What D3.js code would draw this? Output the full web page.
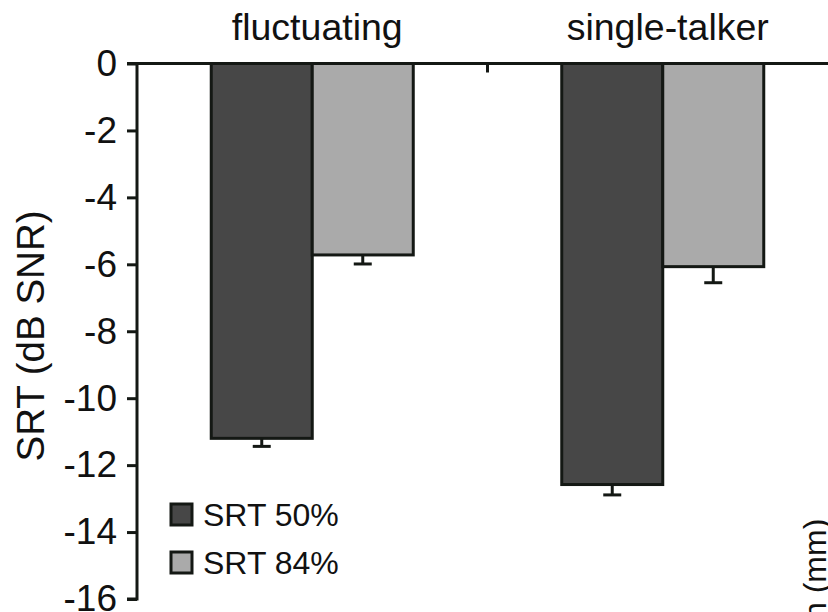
<!DOCTYPE html>
<html>
<head>
<meta charset="utf-8">
<script src="https://cdn.jsdelivr.net/npm/d3@7"></script>
<style>
  html, body { margin: 0; padding: 0; background: #fff; }
  svg { display: block; }
  text { font-family: "Liberation Sans", Arial, Helvetica, sans-serif; fill: #111; }
</style>
</head>
<body>
<svg id="chart" width="828" height="612"></svg>
<script>
// Speech reception thresholds per masker type
const categories = ["fluctuating", "single-talker"];
const seriesNames = ["SRT 50%", "SRT 84%"];
const srt50 = [-11.2, -12.58];
const srt84 = [-5.72, -6.07];
const err50 = [0.24, 0.31];
const err84 = [0.27, 0.48];
const yTicks = [0, -2, -4, -6, -8, -10, -12, -14, -16];
const fills = ["#474747", "#aaaaaa"];

const rows = categories.map((c, i) => ({
  category: c,
  bars: [
    { series: seriesNames[0], value: srt50[i], err: err50[i], fill: fills[0] },
    { series: seriesNames[1], value: srt84[i], err: err84[i], fill: fills[1] }
  ]
}));

const svg = d3.select("#chart");
const axisX = 137, plotTop = 63.5, plotBottom = 599;
const ink = "#141814";

const y = d3.scaleLinear().domain([-16, 0]).range([plotBottom, plotTop]);
const x0 = d3.scaleBand().domain(categories).range([axisX, axisX + 701]).padding(0);
const x1 = d3.scaleBand().domain(seriesNames).range([0, x0.bandwidth()])
  .paddingInner(0).paddingOuter(0.735);

// y axis with outward ticks on the left
const yAxis = svg.append("g")
  .attr("transform", `translate(${axisX},0)`)
  .call(d3.axisLeft(y).tickValues(yTicks).tickSize(10).tickPadding(10)
    .tickFormat(d => d === 0 ? "0" : "-" + Math.abs(d)));
yAxis.select(".domain").attr("stroke", ink).attr("stroke-width", 3)
  .attr("d", `M-10,${plotTop}H0V${plotBottom}H-10`);
yAxis.selectAll(".tick line").attr("stroke", ink).attr("stroke-width", 3);
yAxis.selectAll(".tick text").attr("font-size", 37)
  .style("font-family", "'Liberation Sans', Arial, sans-serif").attr("fill", "#111");

// bars
const groups = svg.append("g").selectAll("g").data(rows).join("g")
  .attr("transform", d => `translate(${x0(d.category)},0)`);

groups.selectAll("rect").data(d => d.bars).join("rect")
  .attr("x", d => x1(d.series))
  .attr("y", y(0))
  .attr("width", x1.bandwidth())
  .attr("height", d => y(d.value) - y(0))
  .attr("fill", d => d.fill)
  .attr("stroke", ink)
  .attr("stroke-width", 3);

// error bars (downward only)
const eb = groups.selectAll("g.err").data(d => d.bars).join("g").attr("class", "err")
  .attr("transform", d => `translate(${x1(d.series) + x1.bandwidth() / 2},0)`);
eb.append("line")
  .attr("y1", d => y(d.value)).attr("y2", d => y(d.value - d.err))
  .attr("stroke", ink).attr("stroke-width", 3);
eb.append("line")
  .attr("x1", -9).attr("x2", 9)
  .attr("y1", d => y(d.value - d.err)).attr("y2", d => y(d.value - d.err))
  .attr("stroke", ink).attr("stroke-width", 3);

// top category axis along y = 0
const xAxis = svg.append("g")
  .attr("transform", `translate(0,${plotTop})`)
  .call(d3.axisBottom(x0).tickSize(0).tickFormat(""));
xAxis.select(".domain").attr("stroke", ink).attr("stroke-width", 3)
  .attr("d", `M${axisX},0H${axisX + 701}`);
xAxis.selectAll(".tick").remove();
svg.append("g").selectAll("line").data(categories.slice(1)).join("line")
  .attr("x1", d => x0(d)).attr("x2", d => x0(d))
  .attr("y1", plotTop).attr("y2", plotTop + 9)
  .attr("stroke", ink).attr("stroke-width", 3);

// category labels above the axis
svg.append("g").selectAll("text").data(categories).join("text")
  .attr("x", d => x0(d) + x0.bandwidth() / 2 + 5)
  .attr("y", 40)
  .attr("text-anchor", "middle")
  .attr("font-size", 37.5)
  .text(d => d);

// y axis title
svg.append("text")
  .attr("transform", `translate(44,336) rotate(-90)`)
  .attr("text-anchor", "middle")
  .attr("font-size", 38.5)
  .text("SRT (dB SNR)");

// legend
const legend = svg.append("g").selectAll("g").data(seriesNames).join("g")
  .attr("transform", (d, i) => `translate(171,${504 + i * 48})`);
legend.append("rect")
  .attr("width", 21).attr("height", 21)
  .attr("fill", (d, i) => fills[i])
  .attr("stroke", ink).attr("stroke-width", 3);
legend.append("text")
  .attr("x", 32).attr("y", 10.5).attr("dy", "0.36em")
  .attr("font-size", 32)
  .text(d => d);

// neighbouring panel's axis title, partly outside the frame
svg.append("text")
  .attr("transform", `translate(826,620) rotate(-90)`)
  .attr("font-size", 32)
  .text("n (mm)");
</script>
</body>
</html>
